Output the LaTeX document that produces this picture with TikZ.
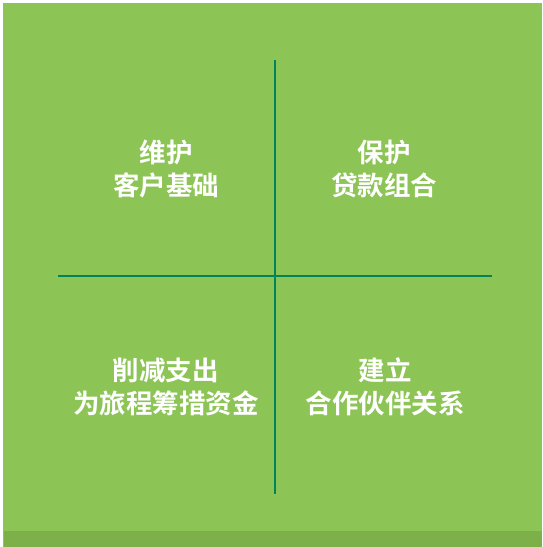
\documentclass[tikz,border=0pt]{standalone}
\usepackage{fontspec}
\newfontfamily\cjk{Noto Sans CJK SC}[BoldFont={Noto Sans CJK SC Bold}]
\definecolor{bggreen}{HTML}{8CC455}
\definecolor{stripgreen}{HTML}{7DB048}
\definecolor{linegreen}{HTML}{00845A}
\definecolor{edgegrey}{HTML}{A8A8A8}
\begin{document}
\begin{tikzpicture}[x=1pt,y=1pt,
  lbl/.style={text=white,font=\cjk\bfseries\fontsize{26.5}{32.5}\selectfont,align=center,inner sep=0pt},
  divider/.style={draw=linegreen,line width=2.4pt}]
\useasboundingbox (0,0) rectangle (542,547);
\fill[white] (0,0) rectangle (542,547);
\fill[bggreen] (3,0) rectangle (542,544);
\fill[stripgreen] (3,0) rectangle (542,16);
\draw[edgegrey,line width=0.6pt] (3.3,0) -- (3.3,544);
\coordinate (vt) at (275,487);
\coordinate (vb) at (275,53);
\coordinate (hl) at (58,271);
\coordinate (hr) at (492,271);
\draw[divider] (vt) -- (vb);
\draw[divider] (hl) -- (hr);
\node[lbl] (tl) at (166,378) {维护\\客户基础};
\node[lbl] (tr) at (384,378) {保护\\贷款组合};
\node[lbl] (bl) at (166,160) {削减支出\\为旅程筹措资金};
\node[lbl] (br) at (385,160) {建立\\合作伙伴关系};
\end{tikzpicture}
\end{document}
